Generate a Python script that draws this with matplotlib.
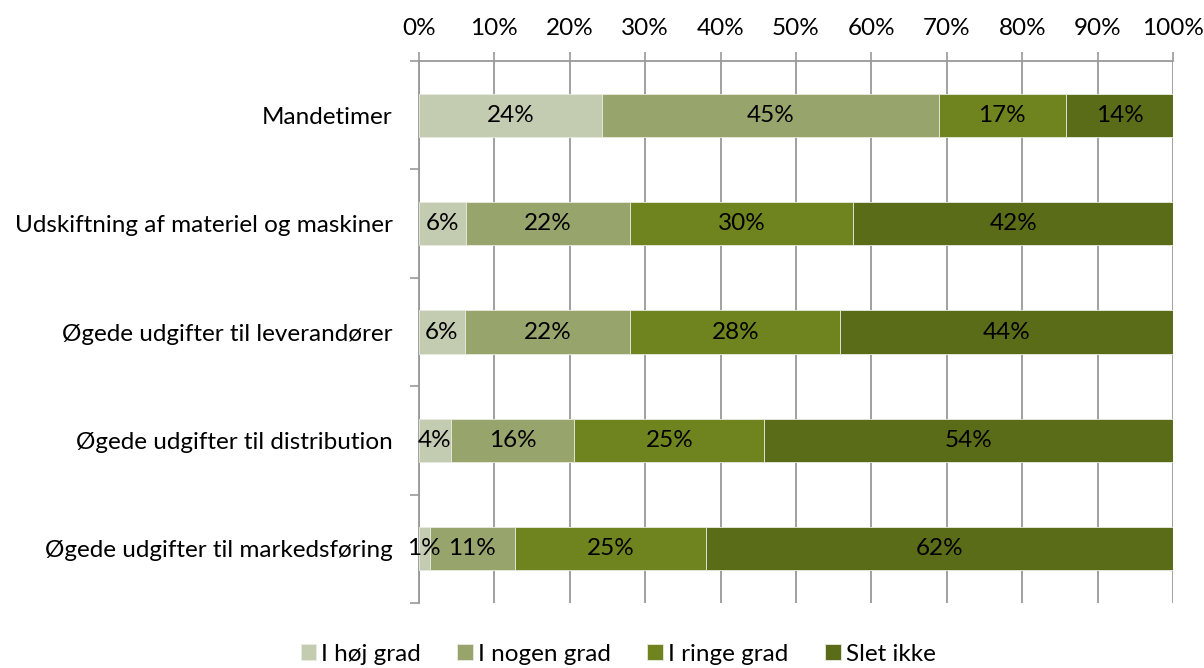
import matplotlib
matplotlib.use("Agg")
import matplotlib.pyplot as plt
from matplotlib.ticker import FixedLocator, PercentFormatter

plt.rcParams['font.family'] = ['Lato', 'DejaVu Sans']

categories = ["Mandetimer",
              "Udskiftning af materiel og maskiner",
              "Øgede udgifter til leverandører",
              "Øgede udgifter til distribution",
              "Øgede udgifter til markedsføring"]
series = ["I høj grad", "I nogen grad", "I ringe grad", "Slet ikke"]

hoj_grad   = [24.3, 6.2, 6.1, 4.2, 1.4]
nogen_grad = [44.6, 21.8, 21.9, 16.4, 11.3]
ringe_grad = [16.9, 29.6, 27.9, 25.2, 25.4]
slet_ikke  = [14.2, 42.4, 44.1, 54.2, 61.9]

values = [hoj_grad, nogen_grad, ringe_grad, slet_ikke]
colors = ["#c3cbb1", "#97a46c", "#6f841f", "#5b6c19"]
fs = 17.5

fig = plt.figure(figsize=(12.04, 6.68), dpi=100)
ax = fig.add_axes([419/1204, 1 - 603/668, (1173-419)/1204, (603-61)/668])

ypos = list(range(len(categories)))
left = [0.0] * len(categories)
for name, vals, col in zip(series, values, colors):
    ax.barh(ypos, vals, left=left, height=0.4, color=col,
            edgecolor="#e8ebe0", linewidth=0.6, label=name, zorder=3)
    for y, l, v in zip(ypos, left, vals):
        ax.text(l + v/2, y, f"{v:.0f}%", ha="center", va="center",
                fontsize=fs, color="black", zorder=4)
    left = [l + v for l, v in zip(left, vals)]

ax.set_xlim(0, 100)
ax.set_ylim(len(categories) - 0.5, -0.5)
ax.xaxis.set_major_locator(FixedLocator(range(0, 101, 10)))
ax.xaxis.set_major_formatter(PercentFormatter(decimals=0))
ax.xaxis.tick_top()
ax.tick_params(axis="x", length=6.5, width=1.2, color="#999999", pad=9, labelsize=fs)
ax.grid(axis="x", color="#999999", linewidth=1.3, zorder=0)

ax.set_yticks(ypos)
ax.set_yticklabels(categories)
ax.yaxis.set_minor_locator(FixedLocator([i - 0.5 for i in range(len(categories) + 1)]))
ax.tick_params(axis="y", which="major", length=0, pad=19, labelsize=fs)
ax.tick_params(axis="y", which="minor", length=6.5, width=1.2, color="#999999")

for s in ["right", "bottom"]:
    ax.spines[s].set_visible(False)
for s in ["left", "top"]:
    ax.spines[s].set_color("#999999")
    ax.spines[s].set_linewidth(1.3)

fig.legend(loc="lower center", bbox_to_anchor=(618/1204, -0.028), ncol=4, frameon=False,
           fontsize=fs, handlelength=0.65, handleheight=0.65, handletextpad=0.2,
           columnspacing=1.5)

fig.savefig("out.png", dpi=100)
